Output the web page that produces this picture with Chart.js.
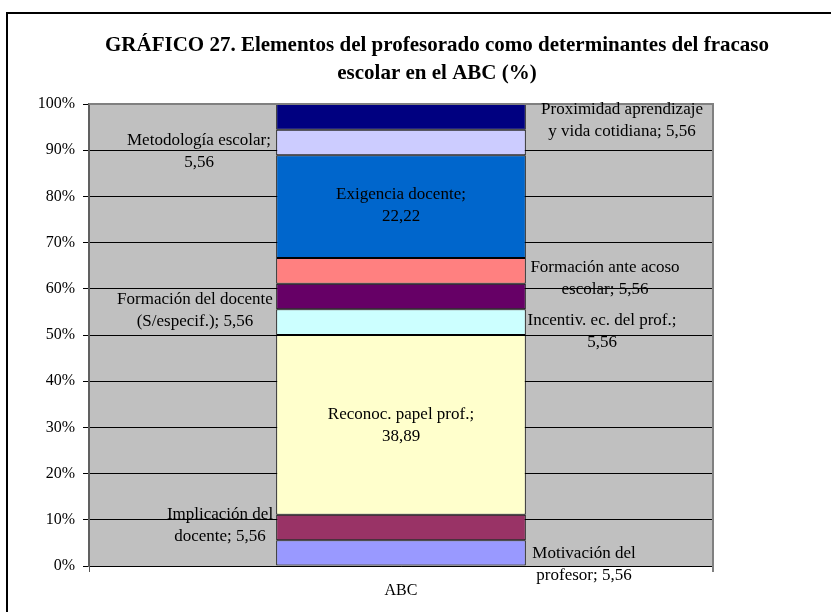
<!DOCTYPE html>
<html>
<head>
<meta charset="utf-8">
<script src="https://cdn.jsdelivr.net/npm/chart.js@4"></script>
<style>
    html, body { margin: 0; padding: 0; background: #fff; overflow: hidden; }
    #frame { position: absolute; left: 6px; top: 12px; width: 900px; height: 700px; border: 2px solid #000; }
    #chart { position: absolute; left: 0; top: 0; }
</style>
</head>
<body>
<div id="frame"></div>
<canvas id="chart" width="874" height="612"></canvas>
<script>
const categories = ['ABC'];

// series, bottom to top
const seriesNames = [
    'Motivación del\nprofesor',
    'Implicación del\ndocente',
    'Reconoc. papel prof.',
    'Incentiv. ec. del prof.',
    'Formación del docente\n(S/especif.)',
    'Formación ante acoso\nescolar',
    'Exigencia docente',
    'Metodología escolar',
    'Proximidad aprendizaje\ny vida cotidiana'
];
const seriesValues = [5.56, 5.56, 38.89, 5.56, 5.56, 5.56, 22.22, 5.56, 5.56];
const seriesColors = ['#9999FF', '#993366', '#FFFFCC', '#CCFFFF', '#660066', '#FF8080', '#0066CC', '#CCCCFF', '#000080'];

// where each label sits, relative to the middle of its segment
const labelOffsets = [[183, 12], [-181, -2], [0, 1], [201, 9], [-206, 14], [204, 8], [0, -1], [-202, 9], [221, 4]];

const titleLines = ['GRÁFICO 27. Elementos del profesorado como determinantes del fracaso', 'escolar en el ABC (%)'];
const yTicks = [0, 10, 20, 30, 40, 50, 60, 70, 80, 90, 100];

const FONT = '"Liberation Serif", "Times New Roman", serif';
const total = seriesValues.reduce((a, b) => a + b, 0);

const formatValue = (v) => v.toFixed(2).replace('.', ',');

const labelText = (i) => {
    const name = seriesNames[i];
    const val = formatValue(seriesValues[i]);
    return name.includes('\n') ? `${name}; ${val}` : `${name};\n${val}`;
}

const plotBackground = {
    id: 'plotBackground',
    beforeDraw(chart) {
        const { ctx, chartArea: a } = chart;
        ctx.save();
        ctx.fillStyle = '#C0C0C0';
        ctx.fillRect(a.left, a.top, a.right - a.left, a.bottom - a.top);
        ctx.restore();
    },
    afterDatasetsDraw(chart) {
        const { ctx, chartArea: a } = chart;
        ctx.save();
        ctx.strokeStyle = '#808080';
        ctx.lineWidth = 2;
        ctx.beginPath();
        ctx.moveTo(a.left, a.top);
        ctx.lineTo(a.right, a.top);
        ctx.lineTo(a.right, a.bottom + 6);
        ctx.stroke();
        ctx.restore();
    }
};

const titlePlugin = {
    id: 'titlePlugin',
    afterDraw(chart) {
        const { ctx } = chart;
        ctx.save();
        ctx.font = `bold 21px ${FONT}`;
        ctx.fillStyle = '#000';
        ctx.textAlign = 'center';
        ctx.textBaseline = 'middle';
        titleLines.forEach((line, k) => ctx.fillText(line, chart.width / 2, 46 + k * 28));
        ctx.restore();
    }
};

const segmentLabels = {
    id: 'segmentLabels',
    afterDraw(chart) {
        const { ctx } = chart;
        ctx.save();
        ctx.font = `17px ${FONT}`;
        ctx.fillStyle = '#000';
        ctx.textAlign = 'center';
        ctx.textBaseline = 'middle';
        chart.data.datasets.forEach((ds, i) => {
            const bar = chart.getDatasetMeta(i).data[0];
            const cx = bar.x + labelOffsets[i][0];
            const cy = (bar.y + bar.base) / 2 + labelOffsets[i][1];
            const lines = labelText(i).split('\n');
            lines.forEach((line, k) => {
                ctx.fillText(line, cx, cy + (k - (lines.length - 1) / 2) * 22);
            });
        });
        ctx.restore();
    }
};

const datasets = seriesNames.map((name, i) => ({
    label: name,
    data: [seriesValues[i] / total * 100],
    backgroundColor: seriesColors[i],
    borderColor: '#000',
    borderWidth: 1,
    borderSkipped: false,
    barPercentage: 0.4,
    categoryPercentage: 1
}));

new Chart(document.getElementById('chart'), {
    type: 'bar',
    data: { labels: categories, datasets },
    plugins: [plotBackground, titlePlugin, segmentLabels],
    options: {
        responsive: false,
        animation: false,
        devicePixelRatio: 1,
        layout: { padding: { left: 10, right: 161, top: 104, bottom: 6 } },
        plugins: {
            legend: { display: false },
            title: { display: false },
            tooltip: { enabled: false }
        },
        scales: {
            x: {
                stacked: true,
                afterFit: (s) => { s.height = 40; },
                grid: { drawOnChartArea: false, tickLength: 6, tickColor: '#555', offset: true },
                border: { color: '#000', width: 1 },
                ticks: { color: '#000', font: { family: FONT, size: 16 }, padding: 9 }
            },
            y: {
                stacked: true,
                min: 0,
                max: 100,
                afterFit: (s) => { s.width = 79; },
                afterBuildTicks: (s) => { s.ticks = yTicks.map(v => ({ value: v })); },
                grid: {
                    color: (c) => (c.tick && c.tick.value === 100 ? '#808080' : '#000'),
                    tickLength: 6,
                    tickColor: '#000'
                },
                border: { color: '#606060', width: 2 },
                ticks: {
                    color: '#000',
                    font: { family: FONT, size: 16 },
                    padding: 8,
                    callback: (v) => v + '%'
                }
            }
        }
    }
});
</script>
</body>
</html>
